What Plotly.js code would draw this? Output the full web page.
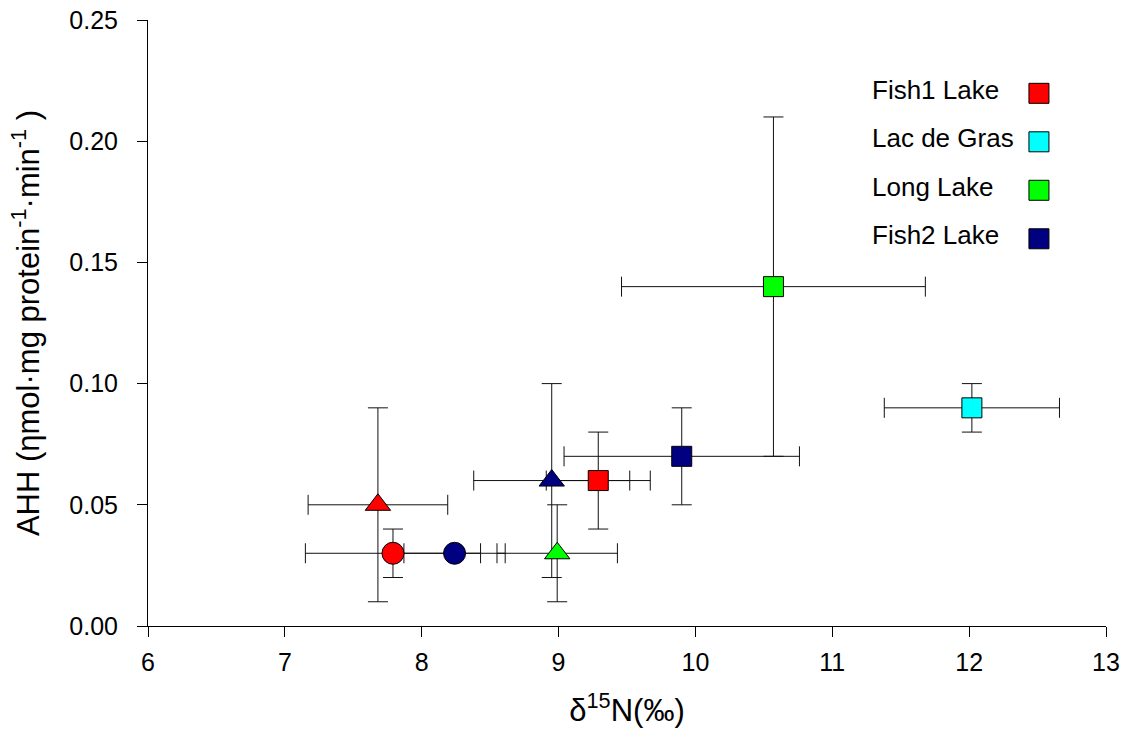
<!DOCTYPE html>
<html>
<head>
<meta charset="utf-8">
<script src="https://cdn.plot.ly/plotly-3.0.1.min.js"></script>
<style>html,body{margin:0;padding:0;background:#fff;}#chart{width:1127px;height:746px;}</style>
</head>
<body>
<div id="chart"></div>
<script>
// Series (lakes) and colours
const lakes = ["Fish1 Lake", "Lac de Gras", "Long Lake", "Fish2 Lake"];
const lakeColors = ["#ff0000", "#00ffff", "#00ff00", "#000080"];

// Per-lake points: symbol, d15N, d15N error, AHH, AHH error
const fish1Symbols = ["square", "triangle-up", "circle"];
const fish1X = [9.29, 7.68, 7.79];
const fish1XErr = [0.38, 0.51, 0.64];
const fish1Y = [0.06, 0.05, 0.03];
const fish1YErr = [0.02, 0.04, 0.01];

const lacSymbols = ["square"];
const lacX = [12.02];
const lacXErr = [0.64];
const lacY = [0.09];
const lacYErr = [0.01];

const longSymbols = ["square", "triangle-up"];
const longX = [10.57, 8.99];
const longXErr = [1.11, 0.44];
const longY = [0.14, 0.03];
const longYErr = [0.07, 0.02];

const fish2Symbols = ["square", "triangle-up", "circle"];
const fish2X = [9.90, 8.95, 8.24];
const fish2XErr = [0.86, 0.57, 0.37];
const fish2Y = [0.07, 0.06, 0.03];
const fish2YErr = [0.02, 0.04, 0.0];

const xTicks = [6, 7, 8, 9, 10, 11, 12, 13];
const yTicks = [0.00, 0.05, 0.10, 0.15, 0.20, 0.25];

const groups = [
  {sym: fish1Symbols, x: fish1X, xe: fish1XErr, y: fish1Y, ye: fish1YErr},
  {sym: lacSymbols, x: lacX, xe: lacXErr, y: lacY, ye: lacYErr},
  {sym: longSymbols, x: longX, xe: longXErr, y: longY, ye: longYErr},
  {sym: fish2Symbols, x: fish2X, xe: fish2XErr, y: fish2Y, ye: fish2YErr}
];

const symSize = {"square": 20, "triangle-up": 22, "circle": 22};
const errStyle = {type: "data", visible: true, color: "#111", thickness: 1, width: 10};

const traces = [];
// error bars first (underneath all markers)
groups.forEach((g, i) => {
  traces.push({
    type: "scatter", mode: "markers", x: g.x, y: g.y,
    marker: {size: 1, opacity: 0},
    error_x: Object.assign({array: g.xe}, errStyle),
    error_y: Object.assign({array: g.ye}, errStyle),
    showlegend: false, hoverinfo: "skip", cliponaxis: false
  });
});
// markers on top
groups.forEach((g, i) => {
  traces.push({
    type: "scatter", mode: "markers", x: g.x, y: g.y, name: lakes[i],
    marker: {symbol: g.sym, size: g.sym.map(s => symSize[s]), color: lakeColors[i], opacity: 1,
             line: {color: "#000", width: 1}},
    showlegend: false, cliponaxis: false
  });
});

// custom legend: text left, square marker right
const plotW = 1127 - 148 - 21, plotH = 746 - 20 - 120;
const legX = 0.930, legTextX = 0.754, legY0 = 0.879, legStep = 0.08;
const halfW = 10 / plotW, halfH = 10 / plotH;
const annotations = [], shapes = [];
lakes.forEach((name, i) => {
  const yy = legY0 - i * legStep;
  annotations.push({xref: "paper", yref: "paper", x: legTextX, y: yy + 0.006, text: name,
    showarrow: false, xanchor: "left", yanchor: "middle",
    font: {family: "Liberation Sans, Arial, sans-serif", size: 26, color: "#000"}});
  shapes.push({type: "rect", xref: "paper", yref: "paper",
    x0: legX - halfW, x1: legX + halfW, y0: yy - halfH, y1: yy + halfH,
    fillcolor: lakeColors[i], line: {color: "#000", width: 1}});
});

const font = {family: "Liberation Sans, Arial, sans-serif", size: 25, color: "#000"};
const layout = {
  width: 1127, height: 746,
  margin: {l: 148, r: 21, t: 20, b: 120},
  paper_bgcolor: "#fff", plot_bgcolor: "#fff",
  font: font,
  showlegend: false,
  xaxis: {
    range: [6, 13], tickvals: xTicks, ticktext: xTicks.map(String),
    showgrid: false, zeroline: false, showline: true, linecolor: "#000", linewidth: 1,
    ticks: "outside", ticklen: 10, tickcolor: "#000", tickwidth: 1,
    tickfont: {family: font.family, size: 25}, ticklabelstandoff: 4,
    title: {text: "δ<sup>15</sup>N(‰)", font: {family: font.family, size: 31}, standoff: 24},
    automargin: false
  },
  yaxis: {
    range: [0, 0.25], tickvals: yTicks, ticktext: yTicks.map(v => v.toFixed(2)),
    showgrid: false, zeroline: false, showline: true, linecolor: "#000", linewidth: 1,
    ticks: "outside", ticklen: 10, tickcolor: "#000", tickwidth: 1,
    tickfont: {family: font.family, size: 25}, ticklabelstandoff: 14,
    title: {text: "AHH (ηmol·mg protein<sup>-1</sup>·min<sup>-1</sup> )", font: {family: font.family, size: 31}, standoff: 20},
    automargin: false
  },
  annotations: annotations,
  shapes: shapes
};

Plotly.newPlot("chart", traces, layout, {displayModeBar: false, staticPlot: true});
</script>
</body>
</html>
